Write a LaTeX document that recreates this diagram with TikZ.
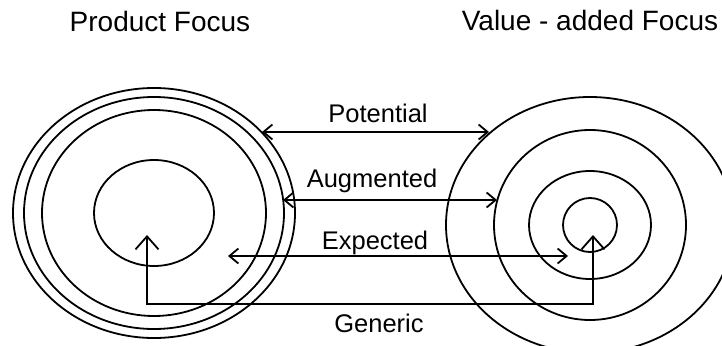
\documentclass[tikz,border=0pt]{standalone}
\usepackage{fontspec}
\setmainfont{Liberation Sans}
\usetikzlibrary{arrows.meta}
\tikzset{
  ring/.style={line width=1.8pt},
  pfeil/.style={line width=1.8pt, {Straight Barb[length=9pt,width=15pt,line width=1.8pt]}-{Straight Barb[length=9pt,width=15pt,line width=1.8pt]}},
  pfeilgross/.style={line width=1.8pt, {Straight Barb[length=13pt,width=23pt,line width=1.8pt]}-{Straight Barb[length=13pt,width=23pt,line width=1.8pt]}},
  titel/.style={anchor=base, inner sep=0pt, font=\fontsize{28}{32}\selectfont},
  lbl/.style={anchor=base, inner sep=0pt, font=\fontsize{25.5}{30}\selectfont}
}
\begin{document}
\begin{tikzpicture}[x=1pt,y=-1pt]
  \useasboundingbox (0,0) rectangle (722,345);
  \clip (0,0) rectangle (722,345);
  % Ueberschriften
  \node[titel] (prod) at (160,32) {Product Focus};
  \node[titel] (value) at (590,31) {Value - added Focus};
  % Ellipsen links
  \coordinate (lc) at (154,213);
  \foreach \rx/\ry in {141/125,130/116,112/103,60/53}
    \draw[ring] (lc) ellipse [x radius=\rx, y radius=\ry];
  % Kreise rechts
  \coordinate (rc) at (590,225);
  \foreach \rx/\ry in {144/128,96/95,61/54,27/27}
    \draw[ring] (rc) ellipse [x radius=\rx, y radius=\ry];
  % Potential
  \coordinate (pot-l) at (262,132);
  \coordinate (pot-r) at (489,132);
  \draw[pfeil] (pot-l) -- (pot-r);
  \node[lbl] (pot) at (378,122) {Potential};
  % Augmented
  \coordinate (aug-l) at (283,200);
  \coordinate (aug-r) at (497,200);
  \draw[pfeil] (aug-l) -- (aug-r);
  \node[lbl] (aug) at (372,187) {Augmented};
  % Expected
  \coordinate (exp-l) at (228,256);
  \coordinate (exp-r) at (568,256);
  \draw[pfeil] (exp-l) -- (exp-r);
  \node[lbl] (exp) at (375,249) {Expected};
  % Generic
  \coordinate (gen-l) at (147,235);
  \coordinate (gen-r) at (593,235);
  \draw[pfeilgross] (gen-l) -- ++(0,69) -| (gen-r);
  \node[lbl] (gen) at (379,332) {Generic};
\end{tikzpicture}
\end{document}
